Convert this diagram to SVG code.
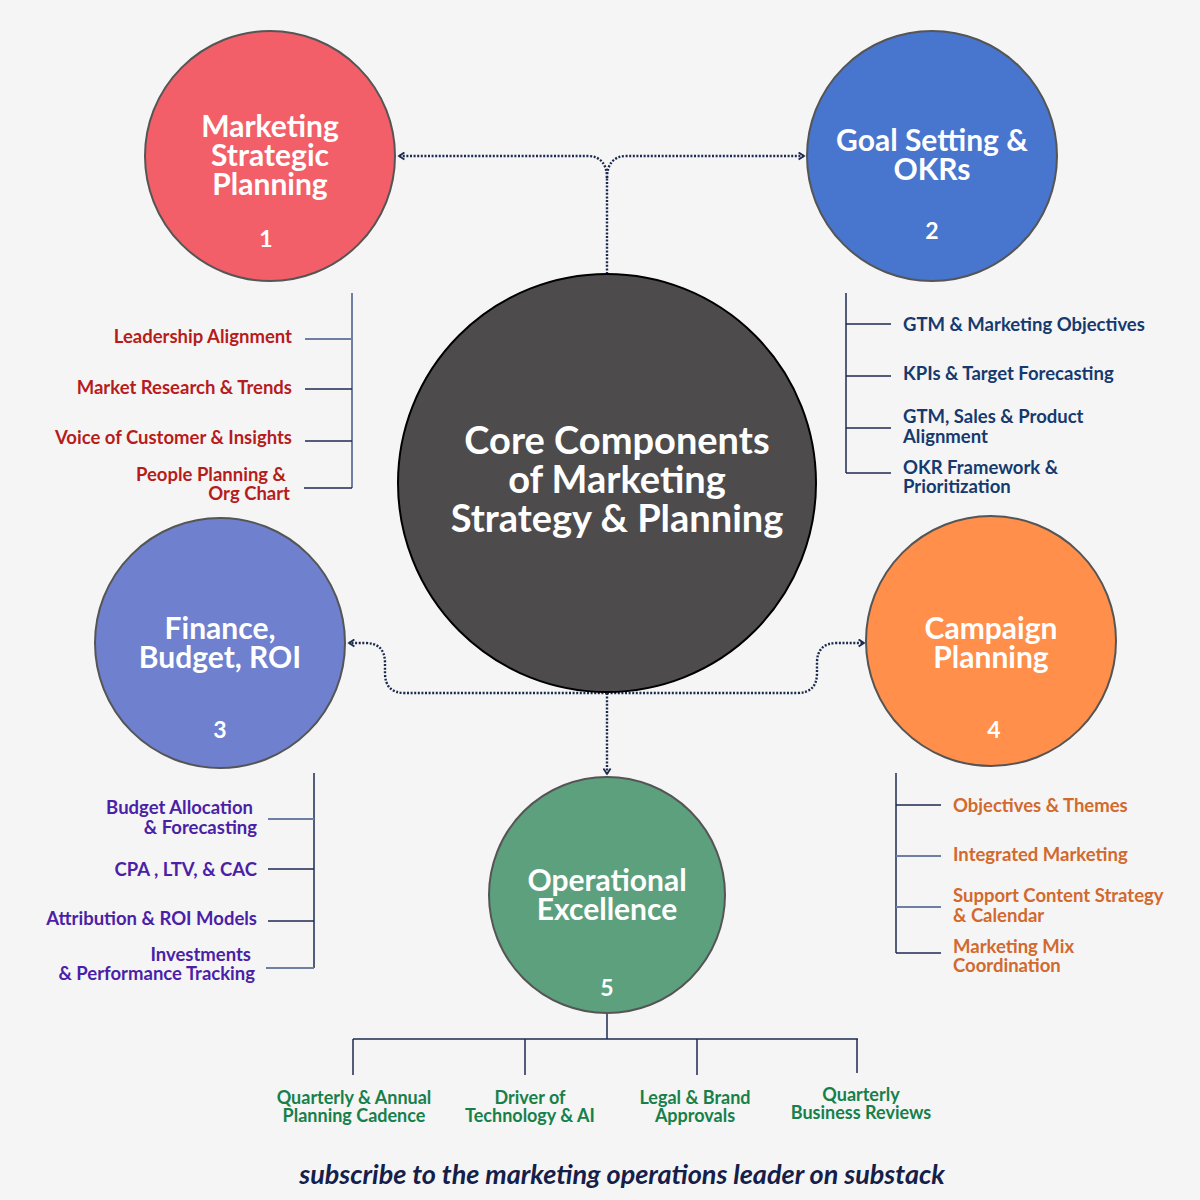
<svg xmlns="http://www.w3.org/2000/svg" width="1200" height="1200" viewBox="0 0 1200 1200">
<defs>
<marker id="chev" viewBox="0 0 10 10" refX="8" refY="5" markerWidth="9" markerHeight="9" markerUnits="userSpaceOnUse" orient="auto">
<path d="M2,1 L8,5 L2,9" fill="none" stroke="#1B2A4E" stroke-width="2"/>
</marker>
</defs>
<style>
.bg{fill:#F5F5F5}
.node{stroke:#555555;stroke-width:2}
.title{font-family:Lato,"Noto Sans",sans-serif;font-weight:bold;font-size:30px;fill:#FFFFFF;text-anchor:middle}
.num{font-family:Lato,"Noto Sans",sans-serif;font-weight:bold;font-size:23px;fill:#FFFFFF;text-anchor:middle}
.core{font-family:Lato,"Noto Sans",sans-serif;font-weight:bold;font-size:38px;fill:#FFFFFF;text-anchor:middle}
.dot{fill:none;stroke:#1B2A4E;stroke-width:2.4;stroke-dasharray:2 1.6}
.tree{fill:none;stroke:#1E2B50;stroke-width:1.5}
.treel{fill:none;stroke:#6E7FA3;stroke-width:2}
.item{font-family:Lato,"Noto Sans",sans-serif;font-weight:bold;font-size:18.5px}
.red{fill:#B71C1C}
.blue{fill:#163A6E}
.purple{fill:#4B1FA6}
.orange{fill:#D2692D}
.green{fill:#17804A;font-size:18px;text-anchor:middle}
.end{text-anchor:end}
.foot{font-family:Lato,"Noto Sans",sans-serif;font-weight:bold;font-style:italic;font-size:27px;fill:#14204A;text-anchor:middle}
</style>
<rect class="bg" x="0" y="0" width="1200" height="1200"/>

<g id="connectors">
<path class="dot" d="M607,274 V178"/>
<path class="dot" d="M607,178 C607,164 600,156 588,156 H399" marker-end="url(#chev)"/>
<path class="dot" d="M607,178 C607,164 614,156 626,156 H804" marker-end="url(#chev)"/>
<path class="dot" d="M607,693 H405 Q385,693 385,673 V663 Q385,643 365,643 H349" marker-end="url(#chev)"/>
<path class="dot" d="M607,693 H797 Q817,693 817,673 V663 Q817,643 837,643 H864" marker-end="url(#chev)"/>
<path class="dot" d="M607,693 V774" marker-end="url(#chev)"/>
<!-- list 1 -->
<path class="treel" d="M352,293 V488"/>
<path class="treel" d="M305,339 H352"/>
<path class="tree" d="M305,389 H352 M305,441 H352 M304,488 H352"/>
<!-- list 2 -->
<path class="tree" d="M846,293 V473 M846,324 H891 M846,376 H891 M846,428 H891 M846,473 H891"/>
<!-- list 3 -->
<path class="tree" d="M314,773 V968 M268,869 H314 M268,921 H314"/>
<path class="treel" d="M268,819 H314 M266,968 H314"/>
<!-- list 4 -->
<path class="tree" d="M896,773 V953 M896,805 H941 M896,953 H941"/>
<path class="treel" d="M896,856 H941 M896,907 H941"/>
<!-- bottom tree -->
<path class="tree" d="M607,1013 V1039 M353,1039 H858 M353,1039 V1075 M525,1039 V1075 M697,1039 V1075 M857,1039 V1073"/>
</g>

<g id="core">
<circle cx="607" cy="483" r="209" fill="#4D4B4C" stroke="#000000" stroke-width="2"/>
<text class="core" x="617" y="454">Core Components</text>
<text class="core" x="617" y="493">of Marketing</text>
<text class="core" x="617" y="532">Strategy &amp; Planning</text>
</g>

<g id="node1">
<circle class="node" cx="270" cy="156" r="125" fill="#F25F68"/>
<text class="title" x="270" y="137">Marketing</text>
<text class="title" x="270" y="166">Strategic</text>
<text class="title" x="270" y="195">Planning</text>
<text class="num" x="266" y="247">1</text>
</g>

<g id="node2">
<circle class="node" cx="932" cy="156" r="125" fill="#4875CE"/>
<text class="title" x="932" y="151">Goal Setting &amp;</text>
<text class="title" x="932" y="180">OKRs</text>
<text class="num" x="932" y="239">2</text>
</g>

<g id="node3">
<circle class="node" cx="220" cy="643" r="125" fill="#6F80CF"/>
<text class="title" x="220" y="639">Finance,</text>
<text class="title" x="220" y="668">Budget, ROI</text>
<text class="num" x="220" y="738">3</text>
</g>

<g id="node4">
<circle class="node" cx="991" cy="641" r="125" fill="#FF8F4A"/>
<text class="title" x="991" y="639">Campaign</text>
<text class="title" x="991" y="668">Planning</text>
<text class="num" x="994" y="738">4</text>
</g>

<g id="node5">
<circle class="node" cx="607" cy="895" r="118" fill="#5DA07D"/>
<text class="title" x="607" y="891">Operational</text>
<text class="title" x="607" y="920">Excellence</text>
<text class="num" x="607" y="996">5</text>
</g>

<g id="list1">
<text class="item red end" x="292" y="343">Leadership Alignment</text>
<text class="item red end" x="292" y="394">Market Research &amp; Trends</text>
<text class="item red end" x="292" y="444">Voice of Customer &amp; Insights</text>
<text class="item red end" x="286" y="481">People Planning &amp;</text>
<text class="item red end" x="290" y="500">Org Chart</text>
</g>

<g id="list2">
<text class="item blue" x="903" y="331">GTM &amp; Marketing Objectives</text>
<text class="item blue" x="903" y="380">KPIs &amp; Target Forecasting</text>
<text class="item blue" x="903" y="423">GTM, Sales &amp; Product</text>
<text class="item blue" x="903" y="443">Alignment</text>
<text class="item blue" x="903" y="474">OKR Framework &amp;</text>
<text class="item blue" x="903" y="493">Prioritization</text>
</g>

<g id="list3">
<text class="item purple end" x="253" y="814">Budget Allocation</text>
<text class="item purple end" x="257" y="834">&amp; Forecasting</text>
<text class="item purple end" x="257" y="876">CPA , LTV, &amp; CAC</text>
<text class="item purple end" x="257" y="925">Attribution &amp; ROI Models</text>
<text class="item purple end" x="251" y="961">Investments</text>
<text class="item purple end" x="255" y="980">&amp; Performance Tracking</text>
</g>

<g id="list4">
<text class="item orange" x="953" y="812">Objectives &amp; Themes</text>
<text class="item orange" x="953" y="861">Integrated Marketing</text>
<text class="item orange" x="953" y="902">Support Content Strategy</text>
<text class="item orange" x="953" y="922">&amp; Calendar</text>
<text class="item orange" x="953" y="953">Marketing Mix</text>
<text class="item orange" x="953" y="972">Coordination</text>
</g>

<g id="list5">
<text class="item green" x="354" y="1104">Quarterly &amp; Annual</text>
<text class="item green" x="354" y="1122">Planning Cadence</text>
<text class="item green" x="530" y="1104">Driver of</text>
<text class="item green" x="530" y="1122">Technology &amp; AI</text>
<text class="item green" x="695" y="1104">Legal &amp; Brand</text>
<text class="item green" x="695" y="1122">Approvals</text>
<text class="item green" x="861" y="1101">Quarterly</text>
<text class="item green" x="861" y="1119">Business Reviews</text>
</g>

<text class="foot" x="622" y="1184">subscribe to the marketing operations leader on substack</text>
</svg>
